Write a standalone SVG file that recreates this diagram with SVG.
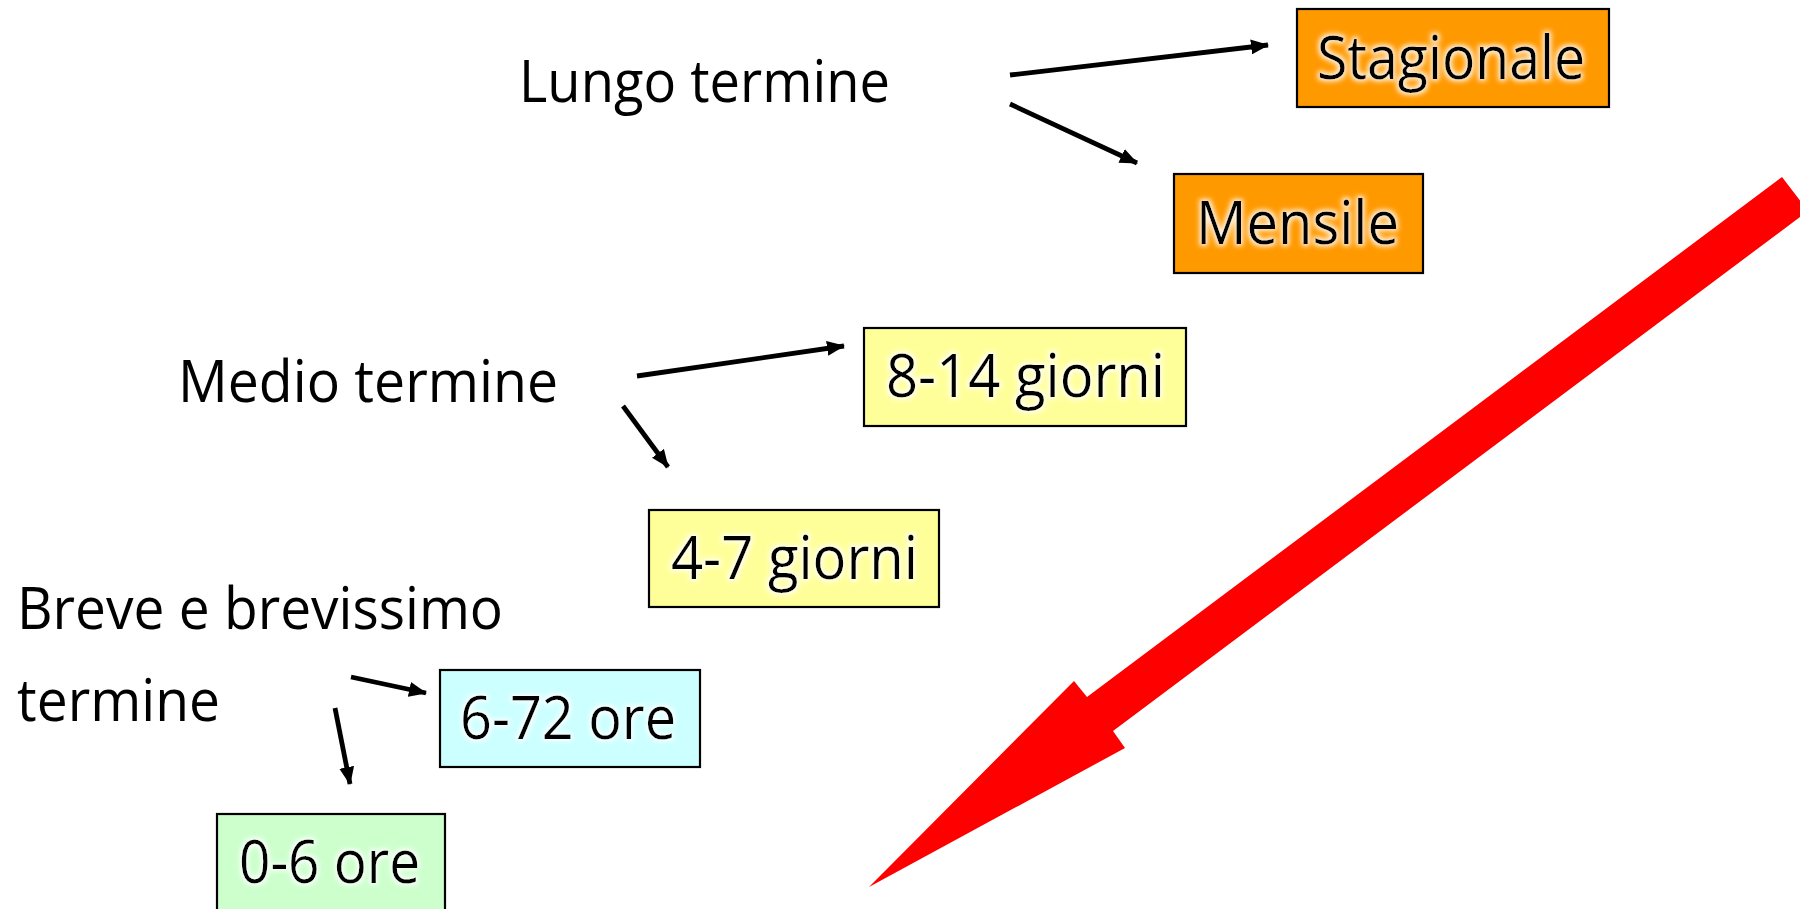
<svg xmlns="http://www.w3.org/2000/svg" width="1800" height="909" viewBox="0 0 1800 909">
<style>
.lbl{font-family:"Open Sans","Liberation Sans",sans-serif;font-size:59px;fill:#000;}
.box{stroke:#000;stroke-width:2.2;}
.bt{font-family:"Open Sans","Liberation Sans",sans-serif;font-size:60px;fill:#000;filter:url(#glow);}
.conn{stroke:#000;stroke-width:4.8;fill:none;marker-end:url(#ah);}
</style>
<defs>
<marker id="ah" markerUnits="userSpaceOnUse" markerWidth="18" markerHeight="15" refX="17" refY="7.5" orient="auto">
<path d="M0,0 L18,7.5 L0,15 z" fill="#000"/>
</marker>
<filter id="glow" x="-10%" y="-30%" width="120%" height="160%">
<feMorphology in="SourceAlpha" operator="dilate" radius="1.5" result="d"/>
<feGaussianBlur in="d" stdDeviation="2.5" result="b"/>
<feFlood flood-color="#ffffff" flood-opacity="0.85"/>
<feComposite in2="b" operator="in" result="g"/>
<feMerge><feMergeNode in="g"/><feMergeNode in="SourceGraphic"/></feMerge>
</filter>
</defs>
<rect width="1800" height="909" fill="#fff"/>

<g id="lungo"><text class="lbl" x="519" y="102" textLength="371" lengthAdjust="spacingAndGlyphs">Lungo termine</text></g>
<g id="medio"><text class="lbl" x="178" y="402" textLength="380" lengthAdjust="spacingAndGlyphs">Medio termine</text></g>
<g id="breve">
<text class="lbl" x="17" y="629" textLength="486" lengthAdjust="spacingAndGlyphs">Breve e brevissimo</text>
<text class="lbl" x="17" y="721" textLength="203" lengthAdjust="spacingAndGlyphs">termine</text>
</g>

<g id="stagionale"><rect class="box" x="1297" y="9" width="312" height="98" fill="#FF9900"/>
<text class="bt" x="1317" y="79" textLength="268" lengthAdjust="spacingAndGlyphs">Stagionale</text></g>
<g id="mensile"><rect class="box" x="1174" y="174" width="249" height="99" fill="#FF9900"/>
<text class="bt" x="1196" y="244" textLength="203" lengthAdjust="spacingAndGlyphs">Mensile</text></g>
<g id="g814"><rect class="box" x="864" y="328" width="322" height="98" fill="#FFFF99"/>
<text class="bt" x="886" y="397" textLength="279" lengthAdjust="spacingAndGlyphs">8-14 giorni</text></g>
<g id="g47"><rect class="box" x="649" y="510" width="290" height="97" fill="#FFFF99"/>
<text class="bt" x="671" y="579" textLength="247" lengthAdjust="spacingAndGlyphs">4-7 giorni</text></g>
<g id="o672"><rect class="box" x="440" y="670" width="260" height="97" fill="#CCFFFF"/>
<text class="bt" x="460" y="739" textLength="216" lengthAdjust="spacingAndGlyphs">6-72 ore</text></g>
<g id="o06"><rect class="box" x="217" y="814" width="228" height="110" fill="#CCFFCC"/>
<text class="bt" x="239" y="883" textLength="181" lengthAdjust="spacingAndGlyphs">0-6 ore</text></g>

<g id="connectors">
<line class="conn" x1="1010" y1="75" x2="1268" y2="45"/>
<line class="conn" x1="1010" y1="104" x2="1137" y2="163"/>
<line class="conn" x1="637" y1="376" x2="844" y2="346"/>
<line class="conn" x1="623" y1="406" x2="668" y2="467"/>
<line class="conn" x1="351" y1="677" x2="426" y2="693"/>
<line class="conn" x1="335" y1="708" x2="350" y2="784"/>
</g>

<g id="red-arrow">
<polygon points="869,887 1125,748 1113,731 1808,211 1782,177 1087,697 1074,681" fill="#FF0000"/>
</g>
</svg>
